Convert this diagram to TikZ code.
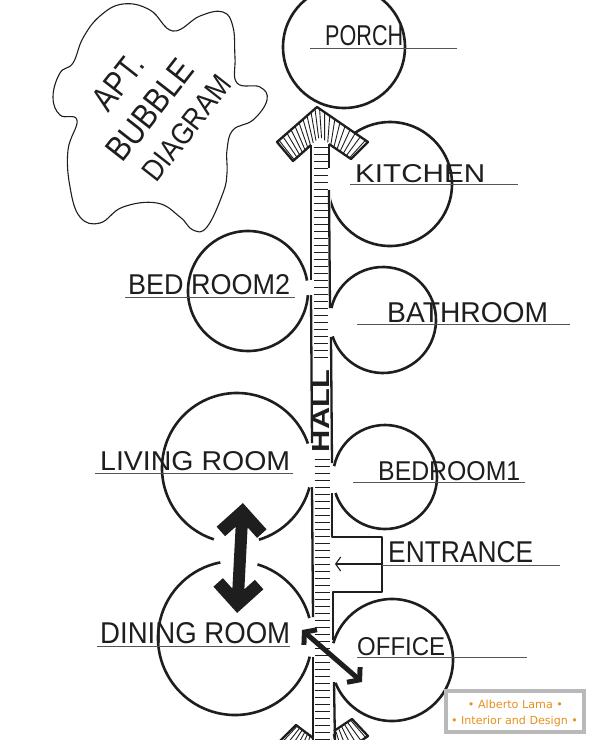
\documentclass[tikz,border=0pt]{standalone}
\usepackage{fontspec}
\setmainfont{Liberation Sans}
\newfontfamily\wmfont{DejaVu Sans}
\usetikzlibrary{calc,arrows.meta}
\definecolor{ink}{HTML}{1E1E1E}
\definecolor{wmorange}{HTML}{E8901F}
\newcommand\hand[3]{\resizebox{#1pt}{#2pt}{#3}}
\newcommand\roomarc[4]{\draw[room] ([shift={(#2:#4)}]#1) arc[start angle=#2,end angle=#3,radius=#4];}
\begin{document}
\begin{tikzpicture}[x=1pt,y=-1pt,
  room/.style={draw=ink,line width=2.6pt},
  wall/.style={draw=ink,line width=2.3pt,line join=round},
  hatch/.style={draw=ink,line width=0.9pt},
  uline/.style={draw=ink!75,line width=0.8pt},
  lab/.style={anchor=south west,inner sep=0pt,text=ink}]
\useasboundingbox (0,0) rectangle (592,740);
\clip (0,0) rectangle (592,740);
\fill[white] (0,0) rectangle (592,740);

% cloud
\draw[ink,line width=1.1pt] plot[smooth cycle,tension=0.7] coordinates {(73,63) (83,38) (100,16) (123,4) (150,10) (173,31) (200,16) (223,12) (233,27) (235,57) (237,83) (260,87) (267,100) (253,120) (233,130) (227,150) (227,173) (223,193) (207,227) (193,230) (180,217) (157,203) (123,207) (100,223) (80,217) (70,187) (68,150) (77,120) (60,115) (53,97) (60,73)};
\node[rotate=52,inner sep=0pt,text=ink] (apt) at (118,82) {\hand{60}{24}{APT.}};
\node[rotate=52,inner sep=0pt,text=ink] (bubble) at (150,110) {\hand{118}{24}{BUBBLE}};
\node[rotate=52,inner sep=0pt,text=ink] (diagram) at (187,128) {\hand{124}{21}{DIAGRAM}};

% room centres
\coordinate (pc) at (344,47);
\coordinate (kc) at (390,184);
\coordinate (bc2) at (248,291);
\coordinate (bac) at (383,320);
\coordinate (lc) at (237,468);
\coordinate (b1c) at (385,477);
\coordinate (dc) at (235,638);
\coordinate (oc) at (392,660);

% rooms
\draw[room] (pc) circle[radius=61];
\roomarc{kc}{174}{-135}{62}
\roomarc{bc2}{4}{350}{60}
\roomarc{bac}{193}{522}{53}
\roomarc{lc}{15}{73}{75}
\roomarc{lc}{108}{341}{75}
\roomarc{b1c}{192}{522}{52}
\roomarc{dc}{287}{345}{77}
\roomarc{dc}{14}{259}{77}
\roomarc{oc}{196}{518}{61}

% bottom chevron
\coordinate (bLW) at (313,738); \coordinate (bLL) at (296,725); \coordinate (bLO) at (280,741);
\coordinate (bT) at (322,768); \coordinate (bRO) at (368,736); \coordinate (bRL) at (352,719);
\coordinate (bRW) at (334,731); \coordinate (bN) at (323,742);
\fill[white] (bLW) -- (bLL) -- (bLO) -- (bT) -- (bRO) -- (bRL) -- (bRW) -- cycle;
\foreach \t in {0.05,0.15,0.25,0.35,0.45,0.55,0.65,0.75,0.85,0.95}{
  \draw[hatch] ($(bT)!\t!(bLO)$) -- ($(bN)!\t!(bLL)$);
  \draw[hatch] ($(bT)!\t!(bRO)$) -- ($(bN)!\t!(bRL)$);}
\draw[wall] (bLW) -- (bLL) -- (bLO) -- (bT) -- (bRO) -- (bRL) -- (bRW);

% hall hatching
\fill[white] (312,140) rectangle (331,740);
\foreach \y in {140,147,...,362}{\draw[hatch] (314,\y) -- (328,\y);}
\foreach \y in {459,466,...,740}{\draw[hatch] (314.5,\y) -- (330,\y);}
\node[rotate=90,inner sep=0pt,text=ink] (hall) at (321,411) {\hand{82}{17}{\bfseries HALL}};

% hall walls
\draw[wall] (311,145) -- (311,280);
\draw[wall] (311,295) -- (312,443);
\draw[wall] (312,487) -- (313,617);
\draw[wall] (313,657) -- (313,745);
\draw[wall] (329,144) -- (329,168);
\draw[wall] (329,190) -- (330,308);
\draw[wall] (331,337) -- (332,463);
\draw[wall] (332,493) -- (332,537) -- (382,537) -- (382,592) -- (333,592) -- (333,640);
\draw[wall] (334,682) -- (335,745);

% top chevron
\coordinate (aT) at (317,107); \coordinate (aRO) at (368,142); \coordinate (aRL) at (351,159);
\coordinate (aRW) at (329,144); \coordinate (aLW) at (311,145); \coordinate (aLL) at (293,161);
\coordinate (aLO) at (277,142); \coordinate (aN) at (320,137);
\fill[white] (aRW) -- (aRL) -- (aRO) -- (aT) -- (aLO) -- (aLL) -- (aLW) -- cycle;
\foreach \t in {0.05,0.15,0.25,0.35,0.45,0.55,0.65,0.75,0.85,0.95}{
  \draw[hatch] ($(aT)!\t!(aLO)$) -- ($(aN)!\t!(aLL)$);
  \draw[hatch] ($(aT)!\t!(aRO)$) -- ($(aN)!\t!(aRL)$);}
\draw[wall] (aRW) -- (aRL) -- (aRO) -- (aT) -- (aLO) -- (aLL) -- (aLW);

% underlines
\draw[uline] (310,48) -- (457,48);
\draw[uline] (350,184) -- (518,184);
\draw[uline] (125,297) -- (295,297);
\draw[uline] (357,324) -- (570,324);
\draw[uline] (95,473) -- (293,473);
\draw[uline] (353,482) -- (525,482);
\draw[uline] (382,565) -- (560,565);
\draw[uline] (97,646) -- (290,646);
\draw[uline] (357,657) -- (527,657);

% labels
\node[lab] (porch) at (325,46) {\hand{78}{20}{PORCH}};
\node[lab] (kitchen) at (355,183) {\hand{130}{18}{KITCHEN}};
\node[lab] (bed2) at (128,295) {\hand{162}{20}{BED ROOM2}};
\node[lab] (bath) at (387,323) {\hand{161}{20}{BATHROOM}};
\node[lab] (living) at (100,471) {\hand{190}{19}{LIVING ROOM}};
\node[lab] (bed1) at (378,481) {\hand{142}{19}{BEDROOM1}};
\node[lab] (entrance) at (388,563) {\hand{145}{21}{ENTRANCE}};
\node[lab] (dining) at (100,644) {\hand{190}{21}{DINING ROOM}};
\node[lab] (office) at (357,656) {\hand{88}{18}{OFFICE}};

% entrance arrow
\coordinate (entR) at (382,564);
\coordinate (entL) at (335,564);
\draw[ink,line width=1.1pt,-{Straight Barb[length=5pt,width=14pt]}] (entR) -- (entL);

% living <-> dining
\begin{scope}[shift={(240,558)},rotate=-3]
\fill[ink] (0,-55) -- (25,-30) -- (16,-21) -- (6,-31) -- (6,31) -- (16,21) -- (25,30) -- (0,55) -- (-25,30) -- (-16,21) -- (-6,31) -- (-6,-31) -- (-16,-21) -- (-25,-30) -- cycle;
\end{scope}

% dining <-> office
\coordinate (dA) at (302,630);
\coordinate (dB) at (362,682);
\draw[ink,line width=5pt,{Straight Barb[length=8pt,width=20pt]}-{Straight Barb[length=8pt,width=20pt]}] (dA) -- (dB);

% watermark
\node[draw=gray!55,line width=4pt,fill=white,minimum width=138pt,minimum height=41pt,inner sep=0pt] (wm) at (515,711.5) {};
\node[text=wmorange,font=\wmfont,inner sep=0pt] (wm1) at (515.5,704.5) {\resizebox{95pt}{!}{• Alberto Lama •}};
\node[text=wmorange,font=\wmfont,inner sep=0pt] (wm2) at (514.5,721) {\resizebox{127pt}{!}{• Interior and Design •}};
\end{tikzpicture}
\end{document}
